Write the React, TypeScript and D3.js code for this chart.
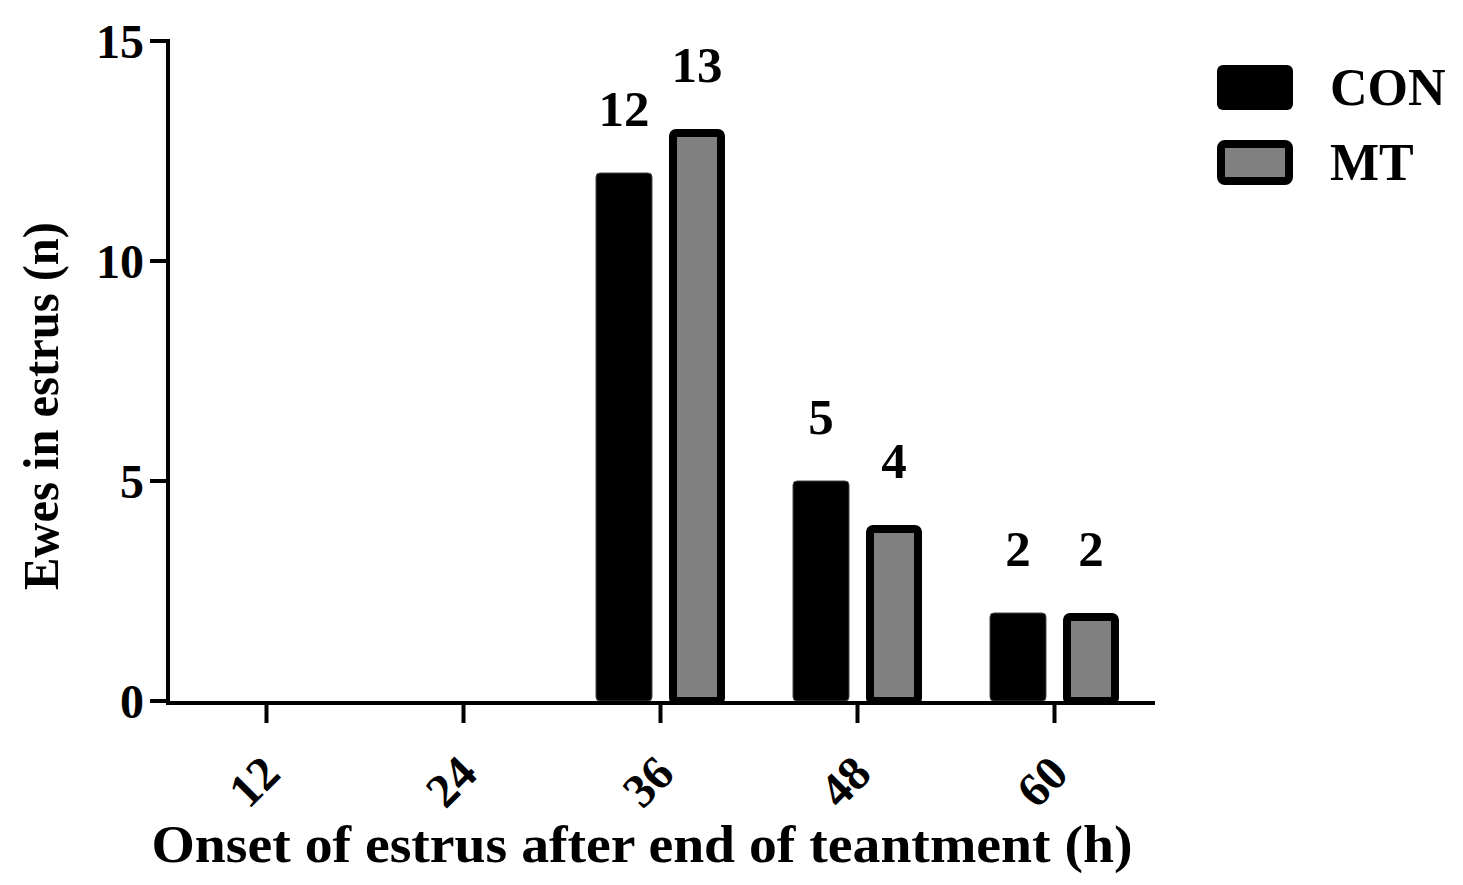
import React from "react";
import * as d3 from "d3";

const categories = ["12", "24", "36", "48", "60"];
const series = ["CON", "MT"];
const conValues = [0, 0, 12, 5, 2];
const mtValues = [0, 0, 13, 4, 2];
const yTicks = [0, 5, 10, 15];
const xTitle = "Onset of estrus after end of teantment (h)";
const yTitle = "Ewes in estrus (n)";

const FONT = "'Liberation Serif', 'Times New Roman', serif";
const GREY = "#808080";

export default function App() {
  const W = 1463, H = 885;
  const x0 = d3.scaleBand<string>().domain(categories).range([168, 1153]).padding(0);
  const x1 = d3.scaleBand<string>().domain(series).range([0, x0.bandwidth()]).paddingInner(0.233).paddingOuter(0.466);
  const y = d3.scaleLinear().domain([0, 15]).range([701, 41]);
  const values: Record<string, number[]> = { CON: conValues, MT: mtValues };
  const sw = 8;

  return (
    <svg width={W} height={H} style={{ position: "absolute", left: 0, top: 0, background: "#fff" }}>
      <rect width={W} height={H} fill="#fff" />
      {/* bars */}
      {categories.map((c, i) =>
        series.map((s) => {
          const v = values[s][i];
          if (!v) return null;
          const bx = (x0(c) as number) + (x1(s) as number);
          const bw = x1.bandwidth();
          const top = y(v);
          const bottom = y(0);
          const label = (
            <text
              key={s + "l"}
              x={bx + bw / 2}
              y={top - 47}
              textAnchor="middle"
              fontFamily={FONT}
              fontWeight="bold"
              fontSize={51}
              fill="#000"
            >
              {v}
            </text>
          );
          if (s === "CON") {
            return (
              <g key={c + s}>
                <rect x={bx} y={top} width={bw} height={bottom - top} rx={4} fill="#000" stroke="#444" strokeWidth={1} />
                {label}
              </g>
            );
          }
          return (
            <g key={c + s}>
              <rect
                x={bx + sw / 2}
                y={top + sw / 2}
                width={bw - sw}
                height={bottom - top - sw / 2}
                rx={3}
                fill={GREY}
                stroke="#000"
                strokeWidth={sw}
              />
              {label}
            </g>
          );
        })
      )}
      {/* y axis */}
      <line x1={168} x2={168} y1={y(15) - 2} y2={y(0) + 4} stroke="#000" strokeWidth={4} />
      {yTicks.map((t) => (
        <g key={t}>
          <line x1={150} x2={168} y1={y(t)} y2={y(t)} stroke="#000" strokeWidth={4} />
          <text
            x={144}
            y={y(t)}
            dy="0.35em"
            textAnchor="end"
            fontFamily={FONT}
            fontWeight="bold"
            fontSize={48}
          >
            {t}
          </text>
        </g>
      ))}
      {/* x axis */}
      <line x1={166} x2={1155} y1={y(0) + 2} y2={y(0) + 2} stroke="#000" strokeWidth={4} />
      {categories.map((c) => {
        const cx = (x0(c) as number) + x0.bandwidth() / 2;
        return (
          <g key={c}>
            <line x1={cx} x2={cx} y1={y(0) + 2} y2={723} stroke="#000" strokeWidth={4} />
            <text
              transform={`translate(${cx + 16},${776}) rotate(-45)`}
              textAnchor="end"
              fontFamily={FONT}
              fontWeight="bold"
              fontSize={48}
            >
              {c}
            </text>
          </g>
        );
      })}
      {/* titles */}
      <text
        x={642}
        y={862}
        textAnchor="middle"
        fontFamily={FONT}
        fontWeight="bold"
        fontSize={52}
        textLength={981}
        lengthAdjust="spacingAndGlyphs"
      >
        {xTitle}
      </text>
      <text
        transform={`translate(58,406) rotate(-90)`}
        textAnchor="middle"
        fontFamily={FONT}
        fontWeight="bold"
        fontSize={50}
        textLength={368}
        lengthAdjust="spacingAndGlyphs"
      >
        {yTitle}
      </text>
      {/* legend */}
      <rect x={1217} y={65} width={76} height={45} rx={6} fill="#000" />
      <rect x={1217 + sw / 2} y={140 + sw / 2} width={76 - sw} height={45 - sw} rx={4} fill={GREY} stroke="#000" strokeWidth={sw} />
      <text x={1330} y={105} fontFamily={FONT} fontWeight="bold" fontSize={52}>
        {series[0]}
      </text>
      <text x={1330} y={180} fontFamily={FONT} fontWeight="bold" fontSize={52}>
        {series[1]}
      </text>
    </svg>
  );
}
